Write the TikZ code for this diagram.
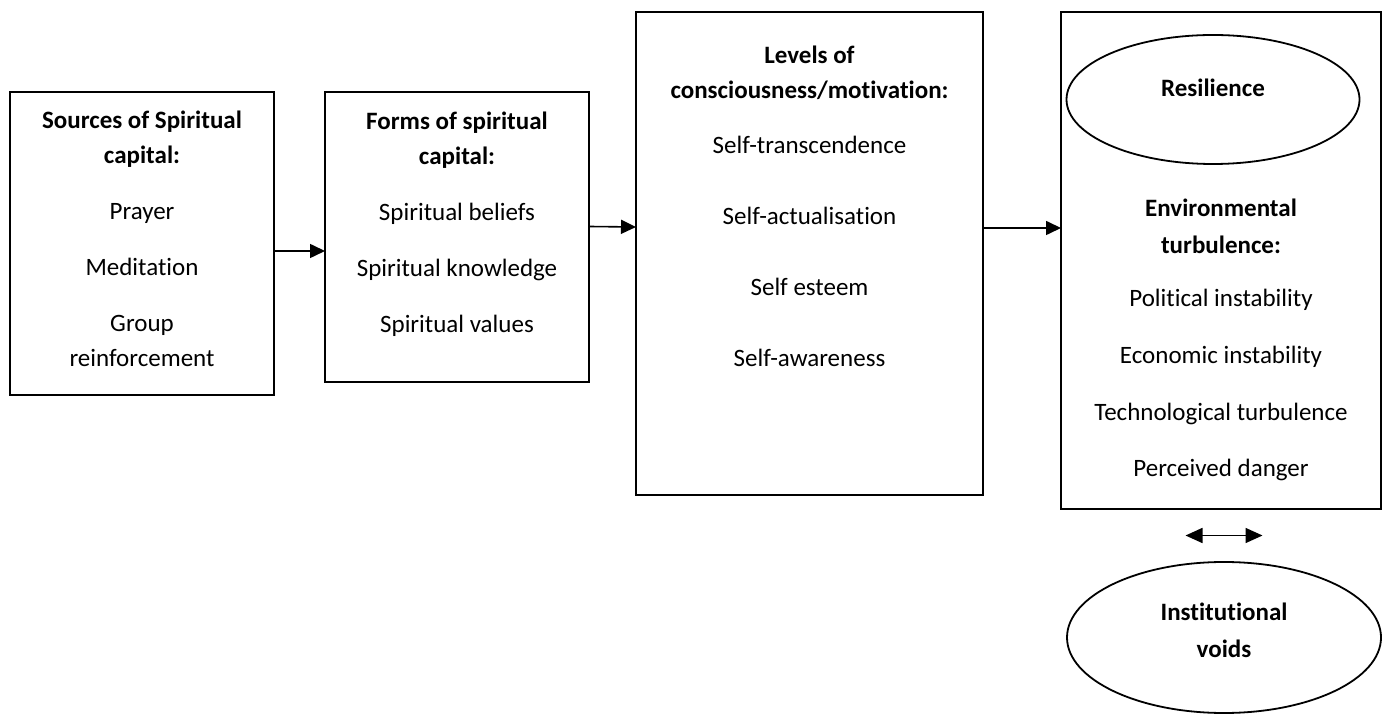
\documentclass[tikz,border=0pt]{standalone}
\usepackage{fontspec}
\setmainfont{Carlito}[Ligatures=NoCommon]
\usetikzlibrary{positioning,arrows.meta,shapes.geometric}

\begin{document}
\begin{tikzpicture}[
  font=\fontsize{12.5pt}{17.5pt}\selectfont,
  stagebox/.style = {draw, line width=1.3pt, align=flush center, anchor=north west,
                     inner xsep=6pt, inner ysep=0pt, outer sep=0pt},
  ovalnode/.style = {draw, ellipse, line width=0.9pt, align=flush center, inner sep=0pt,
                     outer sep=0pt, font=\fontsize{12.5pt}{17.5pt}\selectfont\bfseries},
  flow/.style = {-{Triangle[length=7.5pt, width=7pt]}, line width=0.8pt},
  mutual/.style = {{Triangle[length=8.5pt, width=7.5pt]}-{Triangle[length=8.5pt, width=7.5pt]},
                   line width=0.8pt},
]
\useasboundingbox (0,0) rectangle (693pt,-357.5pt);

% ---------- spiritual capital ----------
\node[stagebox, text width=120pt, text height=18.5pt, text depth=133pt] (sources) at (5pt,-46pt)
  {\textbf{Sources of Spiritual}\\ \textbf{capital:}\\[10.5pt] Prayer\\[10.5pt] Meditation\\[10.5pt] Group\\ reinforcement};
\node[stagebox, text width=120pt, text height=19pt, text depth=126pt,
      right=25.5pt of sources.north east, anchor=north west] (forms)
  {\textbf{Forms of spiritual}\\ \textbf{capital:}\\[10.5pt] Spiritual beliefs\\[10.5pt] Spiritual knowledge\\[10.5pt] Spiritual values};

% ---------- consciousness levels ----------
\node[stagebox, text width=161.5pt, text height=26pt, text depth=215.5pt,
      right=23.5pt of forms.north east, anchor=north west, yshift=40pt] (levels)
  {\textbf{Levels of}\\ \textbf{consciousness/motivation:}\\[10pt] Self-transcendence\\[18pt] Self-actualisation\\[18pt] Self esteem\\[18pt] Self-awareness};

% ---------- resilience under turbulence ----------
\node[stagebox, text width=148pt, text height=102.5pt, text depth=146pt,
      right=39pt of levels.north east, anchor=north west] (turb)
  {\textbf{Environmental}\\[1pt] \textbf{turbulence:}\\[9pt] Political instability\\[11pt] Economic instability\\[11pt] Technological turbulence\\[10.5pt] Perceived danger};
\node[ovalnode, minimum width=146.5pt, minimum height=64.5pt, text height=9pt, text depth=12pt,
      below=11.5pt of turb.north, xshift=-4pt] (resil) {Resilience};
\node[ovalnode, minimum width=157pt, minimum height=75.5pt, text height=27pt, text depth=7.5pt,
      below=26.5pt of turb.south, xshift=1.5pt] (voids) {Institutional\\[1pt] voids};

% ---------- flows ----------
\draw[flow] ([yshift=-3.75pt]sources.east) -- ([yshift=-7pt]forms.west);
\draw[flow] ([yshift=5.25pt]forms.east) -- ([yshift=13.25pt]levels.west);
\draw[flow] ([yshift=12.75pt]levels.east) -- ([yshift=16.25pt]turb.west);

% two-way link between turbulence and institutional voids
\path (turb.south) -- coordinate[pos=0.5] (gap) (voids.north);
\draw[mutual] ([xshift=-18.5pt]gap) -- ([xshift=20pt]gap);

\end{tikzpicture}
\end{document}
